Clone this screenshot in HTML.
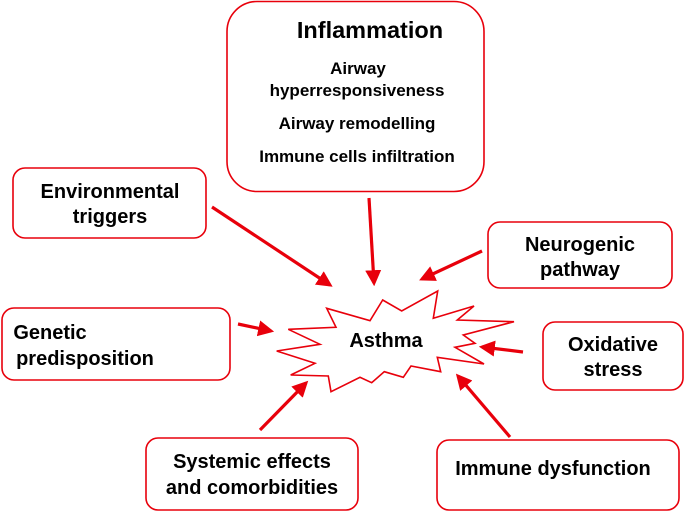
<!DOCTYPE html>
<html><head><style>
body{margin:0;background:#fff;}
svg text{font-family:"Liberation Sans",Arial,sans-serif;font-weight:bold;fill:#000;}
</style></head><body>
<svg width="685" height="512" viewBox="0 0 685 512" xmlns="http://www.w3.org/2000/svg">
<defs><marker id="a" markerWidth="5" markerHeight="5" refX="4" refY="2.5" orient="auto" markerUnits="strokeWidth"><path d="M0,0 L5,2.5 L0,5 z" fill="#e8000b"/></marker></defs>
<g fill="#fff" stroke="#e8000b" stroke-width="1.6">
<rect x="227" y="1.5" width="257" height="190" rx="30"/>
<rect x="13" y="168" width="193" height="70" rx="12"/>
<rect x="488" y="222" width="184" height="66" rx="12"/>
<rect x="2" y="308" width="228" height="72" rx="12"/>
<rect x="543" y="322" width="140" height="68" rx="12"/>
<rect x="146" y="438" width="212" height="72" rx="12"/>
<rect x="437" y="440" width="242" height="70" rx="12"/>
<polygon points="326.7,308.3 336,327.3 288.3,329.3 320,344.3 276.7,351 315,363.3 290.7,375 328.3,376 331,391.7 360,377.3 371.7,382.7 384.3,371.7 403.3,377.3 411,366 440.7,371.7 437.3,357.3 484,364 455,347.3 475,343.3 463.3,335 514,321.7 457.3,320 474,306 433.3,318.3 437.7,291 401.7,311 382.7,300 370,320.7"/>
</g>
<g stroke="#e8000b" stroke-width="3.2" marker-end="url(#a)" fill="none">
<line x1="212" y1="207" x2="330" y2="285"/>
<line x1="369" y1="198" x2="374" y2="283"/>
<line x1="482" y1="251" x2="422" y2="279"/>
<line x1="238" y1="324" x2="271" y2="331"/>
<line x1="523" y1="352" x2="482" y2="347"/>
<line x1="260" y1="430" x2="306" y2="383"/>
<line x1="510" y1="437" x2="458" y2="376"/>
</g>
<g text-anchor="middle">
<text x="370" y="38" font-size="23.5">Inflammation</text>
<text x="358" y="74" font-size="17">Airway</text>
<text x="357" y="96" font-size="17">hyperresponsiveness</text>
<text x="357" y="129" font-size="17">Airway remodelling</text>
<text x="357" y="162" font-size="17">Immune cells infiltration</text>
<text x="110" y="198" font-size="20">Environmental</text>
<text x="110" y="223" font-size="20">triggers</text>
<text x="580" y="251" font-size="20">Neurogenic</text>
<text x="580" y="276" font-size="20">pathway</text>
<text x="50" y="339" font-size="20">Genetic</text>
<text x="85" y="365" font-size="20">predisposition</text>
<text x="613" y="351" font-size="20">Oxidative</text>
<text x="613" y="376" font-size="20">stress</text>
<text x="252" y="468" font-size="20">Systemic effects</text>
<text x="252" y="494" font-size="20">and comorbidities</text>
<text x="553" y="475" font-size="20">Immune dysfunction</text>
<text x="386" y="347" font-size="20">Asthma</text>
</g>
</svg>
</body></html>
